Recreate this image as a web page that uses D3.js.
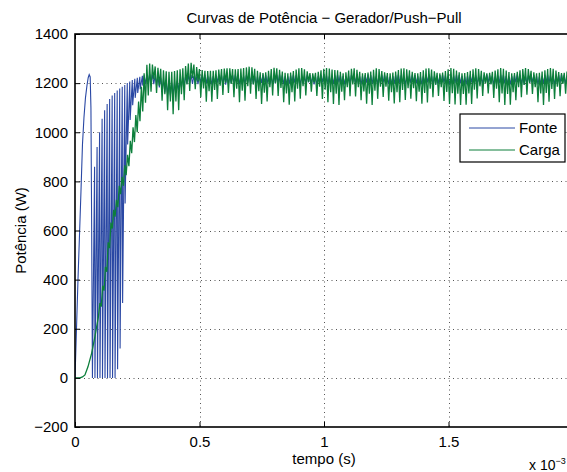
<!DOCTYPE html>
<html>
<head>
<meta charset="utf-8">
<script src="https://cdn.jsdelivr.net/npm/d3@7"></script>
<style>
  html, body { margin: 0; padding: 0; background: #fff; }
  svg text { font-family: "Liberation Sans", Arial, Helvetica, sans-serif; fill: #000; }
</style>
</head>
<body>
<svg id="chart" width="567" height="472"></svg>
<script>
// ---- Axis ticks -------------------------------------------------------
const xTicks = [0, 0.5, 1, 1.5, 2];
const xTickLabels = ["0", "0.5", "1", "1.5", ""];
const yTicks = [-200, 0, 200, 400, 600, 800, 1000, 1200, 1400];
const yTickLabels = ["\u2212200", "0", "200", "400", "600", "800", "1000", "1200", "1400"];

const titleText = "Curvas de Pot\u00eancia \u2212 Gerador/Push\u2212Pull";
const xLabelText = "tempo (s)";
const yLabelText = "Pot\u00eancia (W)";
const seriesNames = ["Fonte", "Carga"];

// ---- Fonte (source power) ---------------------------------------------
// first pulse, sampled points (time, W)
const fonteRampT = [0, 0.006, 0.012, 0.018, 0.024, 0.030, 0.036, 0.042, 0.048, 0.053, 0.057, 0.061, 0.064, 0.067, 0.070];
const fonteRampP = [0, 200, 400, 580, 760, 950, 1060, 1140, 1190, 1222, 1235, 1225, 1100, 600, 0];
// sawtooth start-up: one low / high value per switching cycle
const fonteSawStart = 0.070;
const fonteSawPeriod = 0.0101;
const fonteSawLo = [0, 0, 0, 0, 0, 0, 0, 0, 0, 0, 35, 120, 305, 710, 950, 1050, 1110, 1140, 1160, 1175];
const fonteSawHi = [860, 940, 1000, 1055, 1090, 1115, 1135, 1150, 1160, 1170, 1178, 1185, 1192, 1200, 1207, 1213, 1218, 1222, 1226, 1230];
// steady state: one high / low value per cycle
const fonteStart = 0.272;
const fontePeriod = 0.0111;
const fonteHi = [
  1232,1236,1238,1236,1232,1228,1222,1216,1210,1205,1202,1203,1208,1215,1222,1228,1232,
  1233,1230,1228,1231,1235,1234,1230,1227,1229,1233,
  1236,1233,1229,1227,1230,1234,1235,1231,1228,1229,
  1233,1236,1232,1228,1227,1231,1235,1234,1230,1227,
  1230,1234,1236,1232,1228,1228,1232,1235,1233,1229,
  1227,1231,1235,1234,1230,1227,1229,1233,1236,1232,
  1228,1228,1232,1235,1233,1229,1227,1230,1234,1235,
  1231,1228,1229,1233,1236,1233,1229,1227,1231,1235,
  1234,1230,1227,1229,1233,1236,1232,1228,1228,1232,
  1235,1233,1229,1227,1230,1234,1236,1231,1228,1229,
  1233,1235,1232,1228,1227,1231,1235,1234,1230,1227,
  1230,1234,1236,1232,1228,1228,1232,1235,1233,1229,
  1227,1231,1235,1234,1230,1227,1229,1233,1236,1232,
  1228,1228,1232,1235,1233,1229,1227,1230,1234,1235,
  1231,1228,1229,1233,1236,1233,1229,1227,1231
];
const fonteLo = [
  1190,1196,1200,1200,1196,1190,1182,1172,1162,1155,1150,1152,1160,1172,1183,1192,1198,
  1200,1197,1194,1196,1201,1203,1199,1195,1194,1198,
  1202,1201,1197,1194,1196,1200,1203,1200,1196,1194,
  1198,1202,1201,1196,1194,1197,1201,1203,1199,1195,
  1195,1199,1203,1201,1196,1194,1197,1202,1202,1198,
  1194,1196,1200,1203,1199,1195,1195,1199,1203,1201,
  1197,1194,1197,1201,1203,1199,1195,1195,1199,1202,
  1201,1197,1194,1198,1202,1202,1197,1194,1196,1200,
  1203,1200,1196,1194,1198,1202,1201,1197,1194,1197,
  1201,1203,1199,1195,1195,1199,1203,1201,1196,1194,
  1198,1202,1202,1198,1194,1196,1200,1203,1199,1195,
  1195,1199,1203,1201,1196,1194,1197,1202,1202,1198,
  1194,1196,1200,1203,1199,1195,1195,1199,1203,1201,
  1197,1194,1197,1201,1203,1199,1195,1195,1199,1202,
  1201,1197,1194,1198,1202,1202,1197,1194,1196
];

// ---- Carga (load power) -----------------------------------------------
const cargaRampT = [0, 0.020, 0.030, 0.040, 0.052, 0.067, 0.080, 0.094];
const cargaRampP = [0, 0, 4, 12, 45, 101, 168, 249];
const cargaStart = 0.100;
const cargaPeriod = 0.0111;
const cargaHi = [
  305,375,452,552,632,684,725,782,818,865,908,965,1020,1070,1125,1185,1240,1275,
  1280,1276,1268,1262,1258,1252,1248,1246,1246,1249,
  1252,1256,1260,1270,1280,1283,1276,1265,1257,1253,
  1250,1249,1250,1250,1252,1255,1257,1259,1260,1260,
  1257,1256,1257,1259,1261,1264,1267,1264,1258,1250,
  1244,1241,1244,1250,1257,1262,1260,1254,1247,1242,
  1240,1243,1249,1255,1260,1261,1256,1248,1241,1240,
  1242,1246,1252,1258,1261,1259,1255,1253,1252,1246,
  1240,1244,1251,1258,1260,1254,1246,1240,1241,1243,
  1247,1254,1260,1257,1249,1244,1241,1240,1243,1247,
  1253,1259,1260,1256,1252,1246,1241,1240,1245,1252,
  1259,1260,1255,1248,1242,1240,1243,1249,1256,1261,
  1258,1251,1244,1240,1241,1245,1250,1256,1260,1257,
  1250,1244,1240,1242,1246,1251,1256,1261,1258,1251,
  1245,1240,1241,1246,1252,1257,1261,1257,1250,1244,
  1240,1242,1247,1252,1257,1261,1258,1251,1245,1241,
  1242,1247,1253,1258
];
const cargaLo = [
  290,355,432,528,608,656,695,748,782,825,862,915,960,1000,1045,1085,1120,1150,
  1165,1215,1160,1190,1128,1155,1090,1125,1073,1125,
  1090,1155,1130,1195,1168,1220,1175,1208,1143,1178,
  1124,1167,1124,1172,1135,1190,1152,1202,1160,1197,
  1143,1177,1122,1169,1128,1187,1157,1195,1135,1167,
  1115,1161,1125,1183,1150,1200,1148,1180,1122,1158,
  1112,1163,1125,1177,1137,1187,1150,1205,1165,1203,
  1148,1185,1135,1173,1122,1163,1115,1157,1111,1165,
  1130,1183,1147,1195,1146,1183,1130,1166,1116,1157,
  1111,1169,1136,1185,1144,1185,1128,1163,1117,1163,
  1122,1172,1131,1179,1137,1179,1126,1165,1116,1160,
  1121,1177,1143,1194,1148,1183,1127,1164,1115,1159,
  1113,1157,1111,1156,1112,1158,1115,1173,1138,1187,
  1148,1199,1158,1195,1140,1177,1122,1158,1111,1156,
  1112,1163,1130,1183,1143,1193,1153,1202,1156,1183,
  1122,1158,1111,1160,1124,1176,1135,1185,1147,1197,
  1157,1203,1150,1185
];

// ---- Layout -----------------------------------------------------------
const W = 567, H = 472;
const plot = { left: 75, top: 34, right: 573, bottom: 427 };
const colors = { fonte: "#2a48a4", carga: "#0c7f3b", grid: "#555", axis: "#000" };
const fontSize = 15;

const svg = d3.select("#chart");
const x = d3.scaleLinear().domain([0, 2]).range([plot.left, plot.right]);
const y = d3.scaleLinear().domain([-200, 1400]).range([plot.bottom, plot.top]);

// ---- Build point lists --------------------------------------------------
function cyclePoints(t0, period, first, second, frac) {
  const pts = [];
  for (let k = 0; k < first.length; k++) {
    const t = t0 + k * period;
    pts.push([t, first[k]]);
    pts.push([t + frac * period, second[k]]);
  }
  return pts;
}

const fontePts = fonteRampT.map((t, i) => [t, fonteRampP[i]])
  .concat(cyclePoints(fonteSawStart, fonteSawPeriod, fonteSawLo, fonteSawHi, 0.85))
  .concat(cyclePoints(fonteStart, fontePeriod, fonteLo, fonteHi, 0.5));

const cargaPts = cargaRampT.map((t, i) => [t, cargaRampP[i]])
  .concat(cyclePoints(cargaStart, cargaPeriod, cargaHi, cargaLo, 0.5));

// ---- Grid -------------------------------------------------------------
svg.append("defs").append("clipPath").attr("id", "plotClip")
  .append("rect")
  .attr("x", plot.left).attr("y", plot.top)
  .attr("width", plot.right - plot.left).attr("height", plot.bottom - plot.top);

const grid = svg.append("g").attr("class", "grid")
  .attr("stroke", colors.grid).attr("stroke-width", 1)
  .attr("stroke-dasharray", "1,3.5");
grid.selectAll("line.gx").data(xTicks.slice(1, -1)).join("line")
  .attr("class", "gx")
  .attr("x1", d => Math.round(x(d)) + 0.5).attr("x2", d => Math.round(x(d)) + 0.5)
  .attr("y1", plot.top).attr("y2", plot.bottom);
grid.selectAll("line.gy").data(yTicks.slice(1, -1)).join("line")
  .attr("class", "gy")
  .attr("x1", plot.left).attr("x2", plot.right)
  .attr("y1", d => Math.round(y(d)) + 0.5).attr("y2", d => Math.round(y(d)) + 0.5);

// ---- Series -----------------------------------------------------------
const line = d3.line().x(d => x(d[0])).y(d => y(d[1]));
const series = svg.append("g").attr("clip-path", "url(#plotClip)");
series.append("path").datum(fontePts)
  .attr("d", line).attr("fill", "none")
  .attr("stroke", colors.fonte).attr("stroke-width", 1.1);
series.append("path").datum(cargaPts)
  .attr("d", line).attr("fill", "none")
  .attr("stroke", colors.carga).attr("stroke-width", 1.3);

// ---- Axes (boxed, ticks pointing inward) -------------------------------
const xAxisBottom = d3.axisBottom(x).tickValues(xTicks)
  .tickFormat((d, i) => xTickLabels[i]).tickSizeInner(-5).tickSizeOuter(0).tickPadding(9);
const xAxisTop = d3.axisTop(x).tickValues(xTicks)
  .tickFormat("").tickSizeInner(-5).tickSizeOuter(0);
const yAxisLeft = d3.axisLeft(y).tickValues(yTicks)
  .tickFormat((d, i) => yTickLabels[i]).tickSizeInner(-5).tickSizeOuter(0).tickPadding(7);
const yAxisRight = d3.axisRight(y).tickValues(yTicks)
  .tickFormat("").tickSizeInner(-5).tickSizeOuter(0);

function styleAxis(g) {
  g.select(".domain").remove();
  g.selectAll(".tick line").attr("stroke", colors.axis).attr("stroke-width", 1);
  g.selectAll(".tick text").attr("font-size", fontSize)
    .attr("font-family", '"Liberation Sans", Arial, Helvetica, sans-serif').attr("fill", "#000");
}
svg.append("g").attr("transform", `translate(0,${plot.bottom})`).call(xAxisBottom).call(styleAxis);
svg.append("g").attr("transform", `translate(0,${plot.top})`).call(xAxisTop).call(styleAxis);
svg.append("g").attr("transform", `translate(${plot.left},0)`).call(yAxisLeft).call(styleAxis);
svg.append("g").attr("transform", `translate(${plot.right},0)`).call(yAxisRight).call(styleAxis);

svg.append("rect")
  .attr("x", plot.left).attr("y", plot.top)
  .attr("width", plot.right - plot.left).attr("height", plot.bottom - plot.top)
  .attr("fill", "none").attr("stroke", colors.axis).attr("stroke-width", 1.6);

// ---- Labels -----------------------------------------------------------
const cx = (plot.left + plot.right) / 2;
svg.append("text").attr("x", cx).attr("y", 23)
  .attr("text-anchor", "middle").attr("font-size", fontSize).text(titleText);
svg.append("text").attr("x", cx).attr("y", 464)
  .attr("text-anchor", "middle").attr("font-size", fontSize).text(xLabelText);
svg.append("text")
  .attr("transform", `translate(26,${(plot.top + plot.bottom) / 2}) rotate(-90)`)
  .attr("text-anchor", "middle").attr("font-size", fontSize).text(yLabelText);

// exponent of the time axis
const expo = svg.append("text").attr("x", 529).attr("y", 470).attr("font-size", 14);
expo.append("tspan").text("x 10");
expo.append("tspan").attr("dy", -6).attr("font-size", 9).text("\u22123");

// ---- Legend -----------------------------------------------------------
const legend = svg.append("g").attr("transform", "translate(460,114)");
legend.append("rect").attr("width", 105).attr("height", 48)
  .attr("fill", "#fff").attr("stroke", "#000").attr("stroke-width", 1.2);
const legendColors = [colors.fonte, colors.carga];
seriesNames.forEach((name, i) => {
  const ly = 14 + i * 22;
  legend.append("line").attr("x1", 9).attr("x2", 55).attr("y1", ly).attr("y2", ly)
    .attr("stroke", legendColors[i]).attr("stroke-width", 1);
  legend.append("text").attr("x", 59).attr("y", ly + 5).attr("font-size", fontSize).text(name);
});
</script>
</body>
</html>
